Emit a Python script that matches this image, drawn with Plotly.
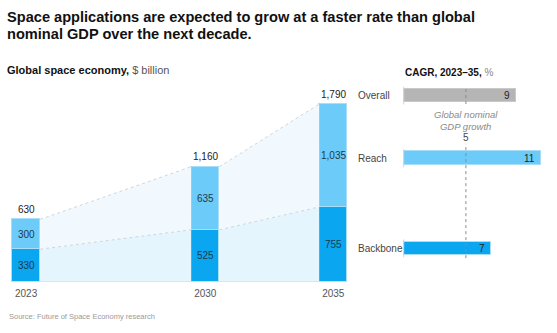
import plotly.graph_objects as go

# ---------------- data ----------------
years = [2023, 2030, 2035]
backbone = [330, 525, 755]
reach = [300, 635, 1035]
totals = [630, 1160, 1790]

cagr_labels = ["Overall", "Reach", "Backbone"]
cagr_values = [9, 11, 7]
gdp_growth = 5

# ---------------- styles / layout positions ----------------
C_BACK = "#0aa6f0"
C_REACH = "#6ccbf8"
C_OVER = "#b5b5b5"
C_EDGE = "#a8def8"
C_AREA_LO = "#e4f5fd"
C_AREA_HI = "#f2f9fe"
FONT = "Liberation Sans, Arial, sans-serif"
BW = 1.1  # bar width in years
hw = BW / 2

# vertical positions (in y-axis units) of the CAGR rows
cagr_pos = [1876, 1245, 338]
cagr_thick = 136
YMAX = 222 / 0.0994

fig = go.Figure()

# connecting areas (between bar edges), one pair of traces per interval
for i in range(len(years) - 1):
    ax = [years[i] + hw, years[i + 1] - hw]
    fig.add_trace(go.Scatter(x=ax, y=[backbone[i], backbone[i + 1]], mode="lines", fill="tozeroy",
                             fillcolor=C_AREA_LO, line=dict(color="#cfd6da", width=1, dash="dot"),
                             hoverinfo="skip", showlegend=False))
    fig.add_trace(go.Scatter(x=ax, y=[totals[i], totals[i + 1]], mode="lines", fill="tonexty",
                             fillcolor=C_AREA_HI, line=dict(color="#cfd6da", width=1, dash="dot"),
                             hoverinfo="skip", showlegend=False))

# stacked bars
fig.add_trace(go.Bar(x=years, y=backbone, width=BW, marker=dict(color=C_BACK, line=dict(color=C_EDGE, width=1)),
                     showlegend=False, hoverinfo="skip"))
fig.add_trace(go.Bar(x=years, y=reach, width=BW, marker=dict(color=C_REACH, line=dict(color=C_EDGE, width=1)),
                     showlegend=False, hoverinfo="skip"))

# CAGR bars on the right
cagr_colors = [C_OVER, C_REACH, C_BACK]
fig.add_trace(go.Bar(x=cagr_values, y=cagr_pos, orientation="h", width=cagr_thick,
                     xaxis="x2", yaxis="y2",
                     marker=dict(color=cagr_colors, line=dict(color=["#c9c9c9", C_EDGE, C_EDGE], width=1)),
                     showlegend=False, hoverinfo="skip"))

shapes = []
# baseline
shapes.append(dict(type="line", xref="x", yref="y", x0=years[0] - hw, x1=years[-1] + hw, y0=0, y1=0,
                   line=dict(color="#cfe3ee", width=1.5)))
# small axis ticks at start of CAGR bars
for p in cagr_pos:
    shapes.append(dict(type="line", xref="x2", yref="y2", x0=0, x1=0, y0=p - 90, y1=p + 90,
                       line=dict(color="#d4d4d4", width=1)))
# GDP dotted line (interrupted by label)
shapes.append(dict(type="line", xref="x2", yref="y2", x0=gdp_growth, x1=gdp_growth, y0=1790, y1=1972,
                   line=dict(color="#8a8a8a", width=1, dash="dot")))
shapes.append(dict(type="line", xref="x2", yref="y2", x0=gdp_growth, x1=gdp_growth, y0=240, y1=1390,
                   line=dict(color="#8a8a8a", width=1, dash="dot")))

ann = []
# titles
for txt, ypx in [("Space applications are expected to grow at a faster rate than global", 17),
                 ("nominal GDP over the next decade.", 34)]:
    ann.append(dict(xref="paper", yref="paper", x=5 / 557, y=1 - ypx / 333, xanchor="left", yanchor="middle",
                    showarrow=False, text=f"<b>{txt}</b>",
                    font=dict(family=FONT, size=14.6, color="#111111")))
ann.append(dict(xref="paper", yref="paper", x=5 / 557, y=1 - 70 / 333, xanchor="left", yanchor="middle",
                showarrow=False, text="<b>Global space economy,</b> <span style='color:#555'>$ billion</span>",
                font=dict(family=FONT, size=11, color="#111111")))
ann.append(dict(xref="paper", yref="paper", x=403 / 557, y=1 - 72 / 333, xanchor="left", yanchor="middle",
                showarrow=False, text="<b>CAGR, 2023–35,</b> <span style='color:#888'>%</span>",
                font=dict(family=FONT, size=10, color="#111111")))
ann.append(dict(xref="paper", yref="paper", x=7 / 557, y=1 - 316 / 333, xanchor="left", yanchor="middle",
                showarrow=False, text="Source: Future of Space Economy research",
                font=dict(family=FONT, size=7.5, color="#9a9a9a")))

# value labels left chart
for i, yv in enumerate(years):
    ann.append(dict(x=yv, y=totals[i], yshift=10, showarrow=False, text=f"{totals[i]:,}",
                    font=dict(family=FONT, size=10, color="#222222")))
    ann.append(dict(x=yv, y=backbone[i] / 2, showarrow=False, text=f"{backbone[i]:,}",
                    font=dict(family=FONT, size=10, color="#1d3a4a")))
    ann.append(dict(x=yv, y=backbone[i] + reach[i] / 2, showarrow=False, text=f"{reach[i]:,}",
                    font=dict(family=FONT, size=10, color="#1d3a4a")))

# CAGR labels
for lab, v, p in zip(cagr_labels, cagr_values, cagr_pos):
    ann.append(dict(xref="paper", yref="y2", x=356 / 557, y=p, xanchor="left", showarrow=False, text=lab,
                    font=dict(family=FONT, size=10, color="#444444")))
    ann.append(dict(xref="x2", yref="y2", x=v, y=p, xanchor="right", xshift=-4, showarrow=False, text=str(v),
                    font=dict(family=FONT, size=10, color="#222222")))
ann.append(dict(xref="x2", yref="y2", x=gdp_growth, y=1620, showarrow=False,
                text="<i>Global nominal<br>GDP growth</i>",
                font=dict(family=FONT, size=9.5, color="#8a8a8a")))
ann.append(dict(xref="x2", yref="y2", x=gdp_growth, y=1455, showarrow=False, text=str(gdp_growth),
                font=dict(family=FONT, size=10, color="#444444")))

px_per_year = 25.6
x0 = years[0] - hw - 12 / px_per_year
fig.update_layout(
    width=557, height=333, autosize=False,
    margin=dict(l=0, r=0, t=0, b=0),
    paper_bgcolor="white", plot_bgcolor="rgba(0,0,0,0)",
    barmode="stack", bargap=0,
    shapes=shapes, annotations=ann,
    xaxis=dict(domain=[0, 350 / 557], range=[x0, x0 + 350 / px_per_year],
               tickvals=years, ticktext=[str(y) for y in years], showgrid=False, zeroline=False,
               showline=False, ticks="", tickfont=dict(family=FONT, size=10, color="#555555"), ticklabelstandoff=4),
    yaxis=dict(domain=[51 / 333, 273 / 333], range=[0, YMAX], visible=False),
    xaxis2=dict(domain=[390 / 557, 1], range=[-13.7 / 12.44, 153.3 / 12.44], visible=False, anchor="y2"),
    yaxis2=dict(domain=[51 / 333, 273 / 333], range=[0, YMAX], visible=False, anchor="x2"),
)

fig.write_html("out.html")
